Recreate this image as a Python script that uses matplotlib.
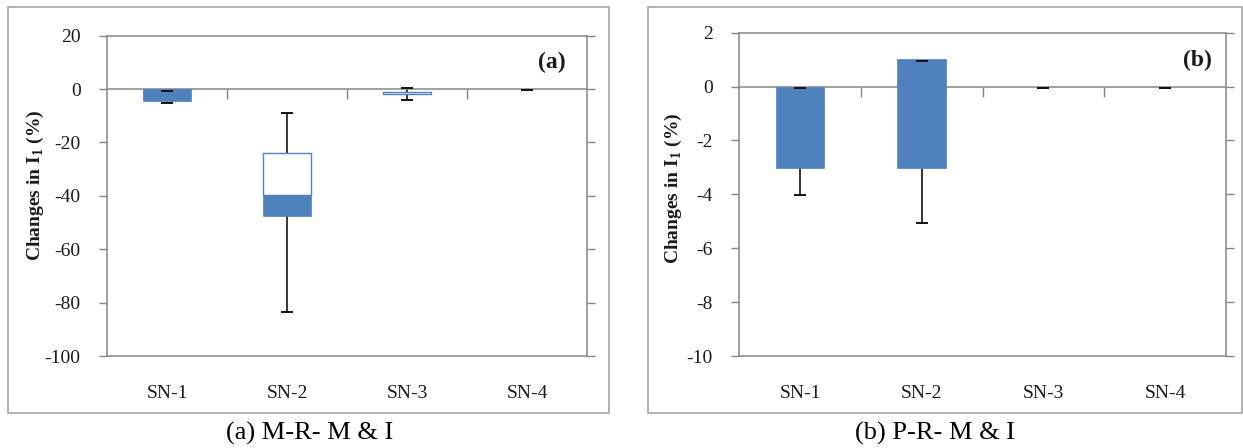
import matplotlib
matplotlib.use("Agg")
import matplotlib.pyplot as plt
from matplotlib.patches import Rectangle

plt.rcParams['font.family'] = ['Liberation Serif', 'DejaVu Serif']
plt.rcParams['axes.unicode_minus'] = False
plt.rcParams['mathtext.fontset'] = 'custom'
plt.rcParams['mathtext.rm'] = 'Liberation Serif:bold'
plt.rcParams['mathtext.bf'] = 'Liberation Serif:bold'

# ---------------- data ----------------
categories = ["SN-1", "SN-2", "SN-3", "SN-4"]

# Panel (a) M-R- M & I
a_box_top = [0.0, -23.8, -1.0, -0.4]
a_box_mid = [0.0, -39.6, -1.95, -0.4]
a_box_bot = [-4.35, -47.4, -1.95, -0.4]
a_whisk_hi = [-0.6, -9.0, 0.5, -0.35]
a_whisk_lo = [-5.3, -83.4, -4.1, -0.5]
a_yticks = [20, 0, -20, -40, -60, -80, -100]

# Panel (b) P-R- M & I
b_box_top = [0.0, 1.01, 0.0, 0.0]
b_box_mid = [0.0, 1.01, 0.0, 0.0]
b_box_bot = [-3.03, -3.03, 0.0, 0.0]
b_whisk_hi = [-0.04, 0.95, -0.04, -0.04]
b_whisk_lo = [-4.02, -5.08, -0.06, -0.06]
b_yticks = [2, 0, -2, -4, -6, -8, -10]

# ---------------- style ----------------
W, H = 1243, 448
BLUE = '#4F81BD'
GRAY = '#868686'
TXT = '#1a1a1a'

fig = plt.figure(figsize=(W / 100, H / 100), dpi=100)
fig.patch.set_facecolor('white')


def px_axes(left, top, right, bottom):
    return fig.add_axes([left / W, (H - bottom) / H, (right - left) / W, (bottom - top) / H])


def frame(x0, y0, x1, y1):
    fig.patches.append(Rectangle((x0 / W, (H - y1) / H), (x1 - x0) / W, (y1 - y0) / H,
                                 transform=fig.transFigure, fill=False,
                                 edgecolor='#a6a6a6', lw=1.2))


def draw_panel(ax, tops, mids, bots, his, los, yticks, ylim):
    xs = list(range(len(categories)))
    # whiskers
    ax.vlines(xs, los, his, color='black', lw=1.1, zorder=1)
    # white upper segment (only where it has height)
    wx = [x for x, t, m in zip(xs, tops, mids) if m != t]
    wh = [m - t for t, m in zip(tops, mids) if m != t]
    wb = [t for t, m in zip(tops, mids) if m != t]
    ax.bar(wx, wh, bottom=wb, width=0.4, color='white', edgecolor=BLUE, lw=1.0, zorder=2)
    # blue lower segment (only where it has height)
    bx = [x for x, m, b in zip(xs, mids, bots) if b != m]
    bh = [b - m for m, b in zip(mids, bots) if b != m]
    bb = [m for m, b in zip(mids, bots) if b != m]
    ax.bar(bx, bh, bottom=bb, width=0.4, color=BLUE, edgecolor=BLUE, lw=0.5, zorder=3)
    # caps
    ax.plot(xs, his, ls='none', marker='_', ms=8, mew=1.4, color='#111111', zorder=4)
    ax.plot(xs, los, ls='none', marker='_', ms=8, mew=1.4, color='#111111', zorder=4)

    ax.set_xlim(-0.5, len(categories) - 0.5)
    ax.set_ylim(*ylim)
    ax.set_yticks(yticks)
    ax.set_yticklabels([str(t) for t in yticks], fontsize=14, color=TXT)
    ax.tick_params(axis='y', which='both', left=True, right=True, labelright=False,
                   direction='out', length=6, width=1, color=GRAY, pad=13)

    # category axis crosses at zero
    ax.spines['bottom'].set_position(('data', 0))
    for s in ax.spines.values():
        s.set_color(GRAY)
        s.set_linewidth(1.1)
    ax.set_xticks([i + 0.5 for i in range(len(categories) - 1)])
    ax.set_xticklabels([])
    ax.tick_params(axis='x', direction='out', length=7, width=1, color=GRAY)

    sec = ax.secondary_xaxis('bottom')
    sec.set_xticks(xs)
    sec.set_xticklabels(categories, fontsize=14, color=TXT)
    sec.tick_params(length=0, pad=21)
    sec.spines['bottom'].set_color(GRAY)
    sec.spines['bottom'].set_linewidth(1.1)


# panel (a)
frame(8, 7, 609, 413)
ax_a = px_axes(107, 35.7, 587, 356)
draw_panel(ax_a, a_box_top, a_box_mid, a_box_bot, a_whisk_hi, a_whisk_lo, a_yticks, (-100, 20))
fig.text(35 / W, 1 - 185 / H, r'Changes in I$_{1}$ (%)', rotation=90, ha='center', va='center',
         fontsize=14, fontweight='bold', color=TXT)
fig.text(552 / W, 1 - 62 / H, '(a)', ha='center', va='center', fontsize=17, fontweight='bold', color=TXT)
fig.text(310 / W, 1 - 433 / H, '(a) M-R- M & I', ha='center', va='center', fontsize=19, color='black')

# panel (b)
frame(648, 7, 1242, 413)
ax_b = px_axes(739.3, 32.7, 1226, 356)
draw_panel(ax_b, b_box_top, b_box_mid, b_box_bot, b_whisk_hi, b_whisk_lo, b_yticks, (-10, 2))
fig.text(673.5 / W, 1 - 188 / H, r'Changes in I$_{1}$ (%)', rotation=90, ha='center', va='center',
         fontsize=14, fontweight='bold', color=TXT)
fig.text(1197 / W, 1 - 60 / H, '(b)', ha='center', va='center', fontsize=17, fontweight='bold', color=TXT)
fig.text(935 / W, 1 - 433 / H, '(b) P-R- M & I', ha='center', va='center', fontsize=19, color='black')

fig.savefig('out.png', dpi=100, facecolor='white')
